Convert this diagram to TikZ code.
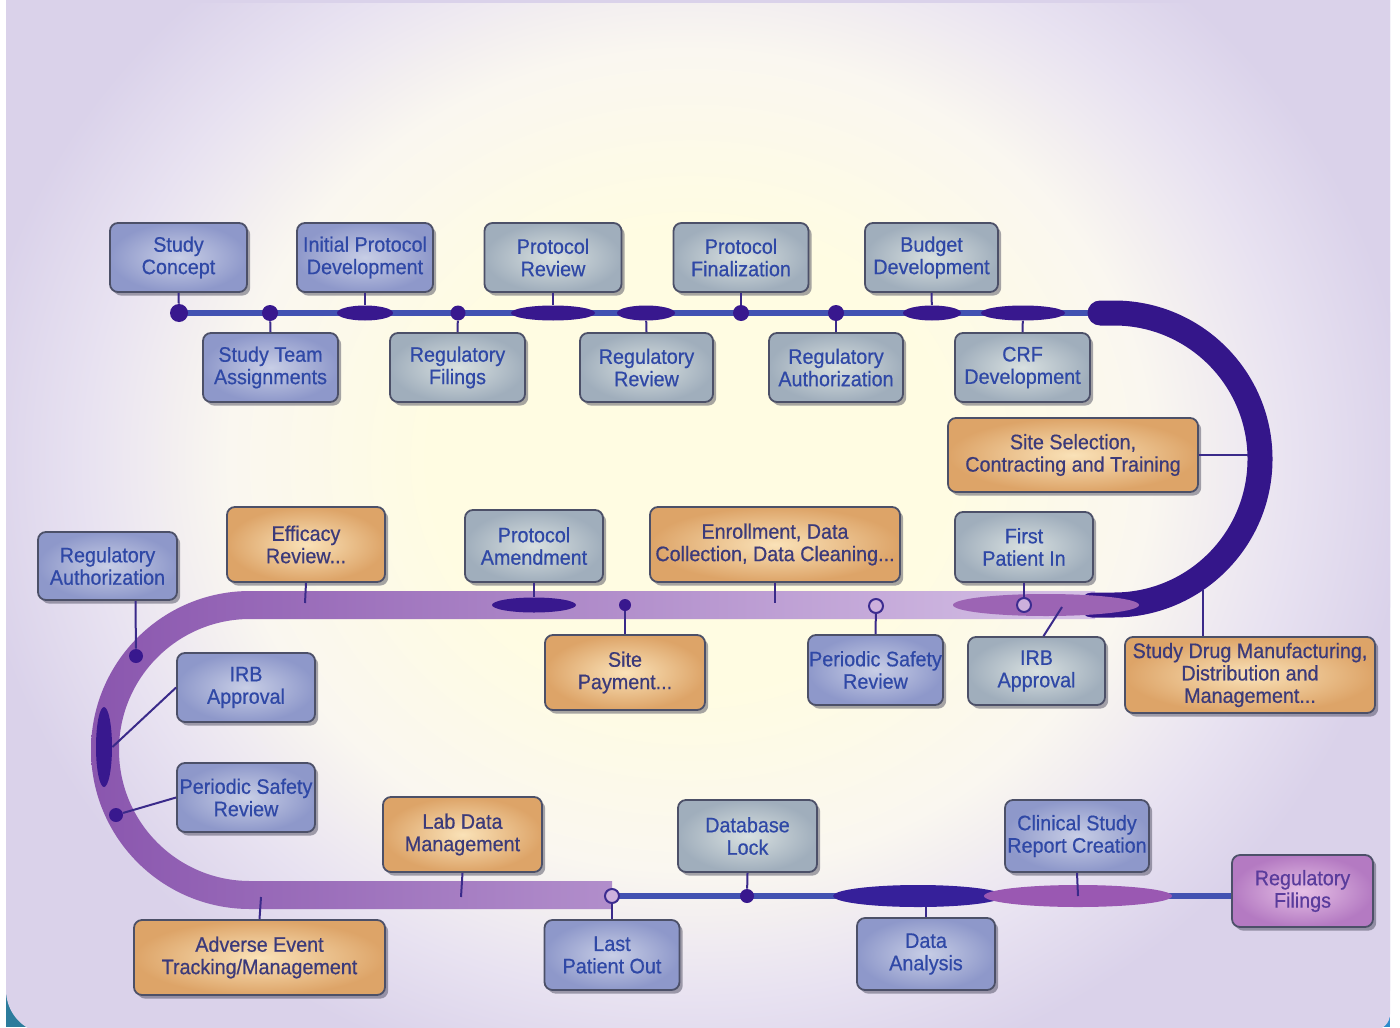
\documentclass[tikz,border=0pt]{standalone}
\usepackage{fontspec}
\setmainfont{Liberation Sans}
\newfontfamily\boxfont{Liberation Sans}[FakeStretch=0.94, FakeBold=0.6]
\newcommand{\bxf}{\boxfont\fontsize{10.5pt}{11.2pt}\selectfont}
\usetikzlibrary{shapes.geometric,shadows}
\definecolor{lav}{HTML}{DAD2EA}
\definecolor{gcream}{HTML}{FFFCE2}
\definecolor{gwhite}{HTML}{FAF7F0}
\definecolor{glav}{HTML}{E8E2F1}
\definecolor{teala}{HTML}{2C7C9C}
\definecolor{tealb}{HTML}{2C8CCC}
\definecolor{grayin}{HTML}{D8E0E0}
\definecolor{grayout}{HTML}{A0AEBC}
\definecolor{lavin}{HTML}{C8CEE6}
\definecolor{lavout}{HTML}{8E98CA}
\definecolor{orin}{HTML}{FAE2B8}
\definecolor{orout}{HTML}{DDA468}
\definecolor{pkin}{HTML}{E6C0E6}
\definecolor{pkout}{HTML}{B47AC2}
\definecolor{boxedge}{HTML}{4C5068}
\definecolor{shadowc}{HTML}{3C3C50}
\definecolor{bluetxt}{HTML}{2F48A6}
\definecolor{ortxt}{HTML}{3B3A7A}
\definecolor{pktxt}{HTML}{5A3C9C}
\definecolor{indigo}{HTML}{38188E}
\definecolor{stemc}{HTML}{3A2A8A}
\definecolor{toplc}{HTML}{4252B2}
\definecolor{odotc}{HTML}{3C2C90}
\definecolor{odotfill}{HTML}{CDB0DC}
\definecolor{purpell}{HTML}{9C64B4}
\definecolor{csrell}{HTML}{9A58B2}
\definecolor{daell}{HTML}{36209A}
\definecolor{arcc}{HTML}{34168A}
\definecolor{bandL}{HTML}{8A56AE}
\definecolor{bandR}{HTML}{D6C2E6}
\pgfdeclareradialshading{glow}{\pgfpoint{0bp}{0bp}}{color(0bp)=(gcream); color(9bp)=(gcream); color(16bp)=(gwhite); color(21bp)=(glav); color(25bp)=(lav); color(50bp)=(lav)}
\tikzset{
  bx/.style={rounded corners=4pt, draw=boxedge, line width=0.9pt, align=center, inner sep=0pt, font=\bxf,
    drop shadow={shadow xshift=1.6pt, shadow yshift=-1.8pt, opacity=0.45, fill=shadowc}},
  gb/.style={bx, inner color=grayin, outer color=grayout, text=bluetxt},
  lb/.style={bx, inner color=lavin, outer color=lavout, text=bluetxt},
  ob/.style={bx, inner color=orin, outer color=orout, text=ortxt},
  pb/.style={bx, inner color=pkin, outer color=pkout, text=pktxt},
  sz/.style 2 args={minimum width=#1pt, minimum height=#2pt},
  dot/.style={circle, fill=indigo, inner sep=0pt, draw=none},
  odot/.style={circle, draw=odotc, line width=1pt, fill=odotfill, inner sep=0pt, minimum size=7pt},
  lens/.style={ellipse, fill=indigo, inner sep=0pt, draw=none},
  stem/.style={draw=stemc, line width=1pt},
  track/.style={draw=toplc, line width=3.2pt},
}
\begin{document}
\begin{tikzpicture}[x=0.5pt, y=-0.5pt]
\useasboundingbox (0,0) rectangle (1400,1027);
\begin{scope}
\clip (0,0) rectangle (1400,1027);
% background
\fill[white] (0,0) rectangle (1400,1027);
\fill[teala] (6,950) rectangle (90,1027);
\fill[tealb] (1330,990) rectangle (1390,1027);
\fill[lav, rounded corners=22pt] (6,-100) rectangle (1390,1034);
\fill[lav, rounded corners=8pt] (700,-100) rectangle (1390,1030);
\begin{scope}
\clip (6,4) rectangle (1390,1027);
\shade[shading=glow] (690,460) ellipse [x radius=720, y radius=640];
\end{scope}

% tracks
\coordinate (ts) at (179,313);
\coordinate (te) at (1100,313);
\draw[track] (ts) -- (te);
\shade[left color=bandL, right color=bandR]
  (1095,591) -- (250,591) arc[start angle=-90, end angle=-270, radius=159]
  -- (612,909) -- (612,881) -- (250,881) arc[start angle=90, end angle=270, radius=131]
  -- (1095,619) -- cycle;
\coordinate (bs) at (612,896);
\draw[arcc, line width=12.5pt, line cap=round] (1100,313) -- (1114,313)
  arc[start angle=-90, end angle=90, radius=146] -- (1092,605);

% boxes: top rows
\node[lb, sz={68.5}{34.5}] (sc)  at (178.5,257.5) {Study\\Concept};
\node[lb, sz={68}{34.5}]   (ipd) at (365,257.5)   {Initial Protocol\\Development};
\node[gb, sz={68.5}{34.5}] (pr)  at (553,257.5)   {Protocol\\Review};
\node[gb, sz={67.5}{34.5}] (pf)  at (741,257.5)   {Protocol\\Finalization};
\node[gb, sz={66.5}{34.5}] (bd)  at (931.5,257.5) {Budget\\Development};
\node[lb, sz={67.5}{34.5}] (sta) at (270.5,367.5) {Study Team\\Assignments};
\node[gb, sz={67.5}{34.5}] (rf)  at (457.5,367.5) {Regulatory\\Filings};
\node[gb, sz={66.5}{34.5}] (rr)  at (646.5,367.5) {Regulatory\\Review};
\node[gb, sz={67}{34.5}]   (ra)  at (836,367.5)   {Regulatory\\Authorization};
\node[gb, sz={67.5}{34.5}] (crf) at (1022.5,367.5) {CRF\\Development};
\node[ob, sz={125}{37}]    (site) at (1073,455)   {Site Selection,\\Contracting and Training};
% middle
\node[lb, sz={69.5}{34}]   (ra2) at (107.5,566)   {Regulatory\\Authorization};
\node[ob, sz={79}{37.5}]   (eff) at (306,544.5)   {Efficacy\\Review...};
\node[gb, sz={69}{36}]     (pa)  at (534,546)     {Protocol\\Amendment};
\node[ob, sz={125}{37.5}]  (enr) at (775,544.5)   {Enrollment, Data\\Collection, Data Cleaning...};
\node[gb, sz={69}{35}]     (fpi) at (1024,547)    {First\\Patient In};
\node[ob, sz={80}{37.5}]   (sp)  at (625,672.5)   {Site\\Payment...};
\node[lb, sz={67.5}{35}]   (psr2) at (875.5,670)  {Periodic Safety\\Review};
\node[gb, sz={68.5}{34}]   (irb2) at (1036.5,671) {IRB\\Approval};
\node[ob, sz={125}{38}]    (drug) at (1250,675)   {Study Drug Manufacturing,\\Distribution and\\Management...};
\node[lb, sz={69}{34.5}]   (irb1) at (246,687.5)  {IRB\\Approval};
\node[lb, sz={69}{34.5}]   (psr1) at (246,797.5)  {Periodic Safety\\Review};
% bottom
\node[ob, sz={79.5}{37.5}] (lab) at (462.5,834.5) {Lab Data\\Management};
\node[ob, sz={125.5}{37.5}] (ae) at (259.5,957.5) {Adverse Event\\Tracking/Management};
\node[lb, sz={67.5}{35}]   (lpo) at (612,955)     {Last\\Patient Out};
\node[gb, sz={69.5}{36}]   (dbl) at (747.5,836)   {Database\\Lock};
\node[lb, sz={69}{36}]     (da)  at (926,954)     {Data\\Analysis};
\node[lb, sz={72}{36}]     (csr) at (1077,836)    {Clinical Study\\Report Creation};
\node[pb, sz={70.5}{36}]   (rf2) at (1302.5,891)  {Regulatory\\Filings};

\draw[track] (bs) -- (bs -| rf2.west);

% markers top
\node[dot, minimum size=9pt] (d1) at (179,313) {};
\node[dot, minimum size=8pt] (d2) at (270,313) {};
\node[lens, minimum width=28pt, minimum height=7.5pt] (e1) at (365,313) {};
\node[dot, minimum size=7.5pt] (d3) at (458,313) {};
\node[lens, minimum width=42pt, minimum height=7.5pt] (e2) at (553,313) {};
\node[lens, minimum width=29pt, minimum height=7.5pt] (e3) at (646,313) {};
\node[dot, minimum size=8pt] (d4) at (741,313) {};
\node[dot, minimum size=8pt] (d5) at (836,313) {};
\node[lens, minimum width=29pt, minimum height=7.5pt] (e4) at (932,313) {};
\node[lens, minimum width=42pt, minimum height=7.5pt] (e5) at (1023,313) {};
% markers middle
\node[lens, minimum width=42pt, minimum height=7.5pt] (pam) at (534,605) {};
\node[dot, minimum size=6pt] (spd) at (625,605) {};
\node[odot] (psro) at (876,606) {};
\node[lens, fill=purpell, minimum width=93pt, minimum height=11pt] (fpe) at (1046,605) {};
\node[odot] (fpio) at (1024,605) {};
\coordinate (efft) at (305,603);
\coordinate (enrt) at (775,603);
\coordinate (irbm) at (1062,607);
\coordinate (sitec) at (1248,455);
\coordinate (drugc) at (1203,590);
% markers left
\node[dot, minimum size=7pt] (rad) at (136,656) {};
\node[lens, minimum width=8pt, minimum height=40pt] (lvl) at (104,747) {};
\node[dot, minimum size=7pt] (psrd) at (116,815) {};
% markers bottom
\node[lens, fill=daell, minimum width=85pt, minimum height=11pt] (dae) at (918,896) {};
\node[lens, fill=csrell, minimum width=94pt, minimum height=11pt] (csre) at (1078,896) {};
\node[odot] (lpoo) at (612,896) {};
\node[dot, minimum size=7pt] (dbd) at (747,896) {};
\coordinate (aet) at (261,897);
\coordinate (labt) at (461,897);

% stems / connectors
\draw[stem] (sc.south) -- (d1);
\draw[stem] (sta.north) -- (d2);
\draw[stem] (ipd.south) -- (e1);
\draw[stem] (rf.north) -- (d3);
\draw[stem] (pr.south) -- (e2);
\draw[stem] (rr.north) -- (e3);
\draw[stem] (pf.south) -- (d4);
\draw[stem] (ra.north) -- (d5);
\draw[stem] (bd.south) -- (e4);
\draw[stem] (crf.north) -- (e5);
\draw[stem] (site.east) -- (sitec);
\draw[stem] ([xshift=14pt]ra2.south) -- (rad);
\draw[stem] (eff.south) -- (efft);
\draw[stem] (pa.south) -- (pam);
\draw[stem] (sp.north) -- (spd);
\draw[stem] (enr.south) -- (enrt);
\draw[stem] (psr2.north) -- (psro);
\draw[stem] (fpi.south) -- (fpio);
\draw[stem] ([xshift=3.5pt]irb2.north) -- (irbm);
\draw[stem] ([xshift=-23.5pt]drug.north) -- (drugc);
\draw[stem] (irb1.west) -- (lvl.east);
\draw[stem] (psr1.west) -- (psrd);
\draw[stem] (ae.north) -- (aet);
\draw[stem] (lab.south) -- (labt);
\draw[stem] (lpo.north) -- (lpoo);
\draw[stem] (dbl.south) -- (dbd);
\draw[stem] (da.north) -- (da.north |- dae.south);
\draw[stem] (csr.south) -- (csre.center);
\end{scope}
\end{tikzpicture}
\end{document}
